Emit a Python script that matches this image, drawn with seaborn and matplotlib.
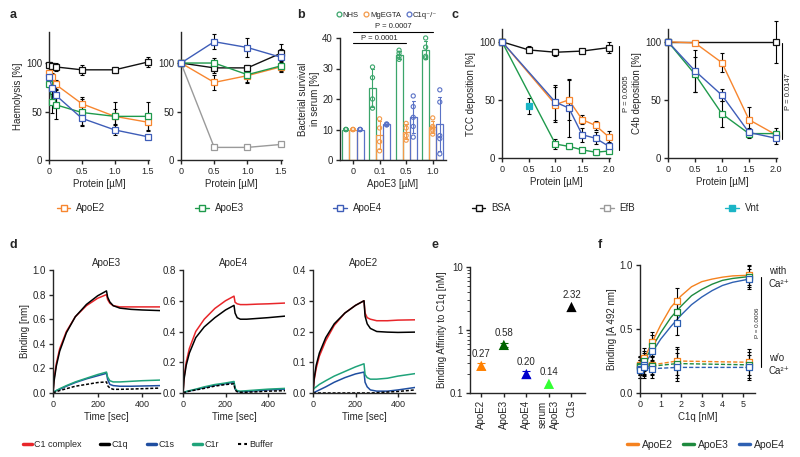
import matplotlib
matplotlib.use('Agg')
import matplotlib.pyplot as plt
from matplotlib.lines import Line2D
import matplotlib.ticker as ticker
import numpy as np
import pandas as pd
import seaborn as sns

# ---- colours
C_E2, C_E3, C_E4 = '#F7862F', '#1F9A4C', '#3E5DB8'
C_BSA, C_EFB, C_VNT = '#111111', '#9A9A9A', '#1BB5C6'

# ---- panel a (haemolysis)
a1_x = [0, 0.05, 0.1, 0.5, 1.0, 1.5]
a1_bsa = [98, 97, 96, 93, 93, 101]
a1_bsa_err = [3, 3, 4, 5, 3, 5]
a1_e2 = [90, 86, 78, 58, 45, 39]
a1_e2_err = [3, 4, 5, 7, 8, 8]
a1_e3 = [78, 60, 57, 49, 45, 45]
a1_e3_err = [3, 12, 15, 14, 15, 15]
a1_e4 = [86, 74, 67, 43, 31, 24]
a1_e4_err = [4, 6, 8, 7, 5, 2]

a2_x = [0, 0.5, 1.0, 1.5]
a2_bsa = [100, 95, 95, 110]
a2_bsa_err = [0, 5, 3, 10]
a2_e2 = [100, 80, 87, 96]
a2_e2_err = [0, 8, 8, 5]
a2_e3 = [100, 100, 88, 97]
a2_e3_err = [0, 5, 8, 5]
a2_e4 = [100, 122, 116, 106]
a2_e4_err = [0, 8, 10, 8]
a2_efb = [100, 13, 13, 16]
a2_efb_err = [0, 2, 2, 2]

# ---- panel b (bacterial survival, replicates)
b_conc = ['0', '0.1', '0.5', '1.0']
b_sera = ['NHS', 'MgEGTA', 'C1q⁻/⁻']
b_nhs = {'0': [10, 10, 10, 10], '0.1': [30.5, 27, 20, 17],
         '0.5': [36, 35, 34, 33], '1.0': [40, 37, 34, 33.5]}
b_mg = {'0': [10, 10, 10, 10], '0.1': [13.5, 10.5, 6, 3],
        '0.5': [12, 10.5, 8, 6.5], '1.0': [13.8, 11, 10.5, 9.8, 8.5]}
b_c1q = {'0': [10, 10, 10, 10], '0.1': [11.8, 11.7, 11.6, 11.5],
         '0.5': [21, 17.5, 14, 11, 7.5], '1.0': [23, 19, 8, 7, 2]}
b_colors = ['#3BA56B', '#F39A4A', '#5A72C6']

# ---- panel c (TCC / C4b deposition)
c1_bsa_x = [0, 0.5, 1.0, 1.5, 2.0]
c1_bsa = [100, 93, 91, 92, 95]
c1_bsa_err = [2, 3, 3, 2, 5]
c1_x = [0, 1.0, 1.25, 1.5, 1.75, 2.0]
c1_e2 = [100, 46, 50, 33, 28, 18]
c1_e2_err = [2, 15, 17, 4, 4, 5]
c1_e3 = [100, 12, 10, 7, 5, 6]
c1_e3_err = [2, 4, 2, 2, 2, 2]
c1_e4 = [100, 48, 43, 20, 17, 10]
c1_e4_err = [2, 15, 25, 6, 5, 4]
c1_vnt_x = [0.5]
c1_vnt = [45]
c1_vnt_err = [7]

c2_bsa_x = [0, 2.0]
c2_bsa = [100, 100]
c2_bsa_err = [0, 18]
c2_x = [0, 0.5, 1.0, 1.5, 2.0]
c2_e2 = [100, 99, 82, 33, 20]
c2_e2_err = [2, 2, 8, 11, 3]
c2_e3 = [100, 72, 38, 21, 21]
c2_e3_err = [2, 15, 11, 4, 5]
c2_e4 = [100, 75, 54, 22, 17]
c2_e4_err = [2, 18, 5, 4, 5]

# ---- panel d (binding kinetics)
d_time = [0, 5, 15, 30, 60, 100, 150, 200, 240, 245, 255, 270, 300, 350, 400, 480]
d_labels = ['C1 complex', 'C1q', 'C1s', 'C1r', 'Buffer']
d_colors = ['#E8262A', '#000000', '#1F4EA0', '#1FA37A', '#000000']
d_apoe3 = {
    'C1 complex': [0, 0.12, 0.24, 0.36, 0.50, 0.62, 0.71, 0.77, 0.80, 0.76, 0.73, 0.71, 0.70, 0.70, 0.70, 0.70],
    'C1q': [0, 0.10, 0.22, 0.34, 0.49, 0.62, 0.72, 0.79, 0.83, 0.78, 0.74, 0.71, 0.69, 0.68, 0.675, 0.67],
    'C1s': [0, 0.01, 0.02, 0.03, 0.055, 0.085, 0.115, 0.14, 0.16, 0.11, 0.07, 0.06, 0.055, 0.055, 0.057, 0.06],
    'C1r': [0, 0.01, 0.02, 0.035, 0.06, 0.09, 0.12, 0.15, 0.17, 0.13, 0.10, 0.09, 0.09, 0.095, 0.10, 0.105],
    'Buffer': [0, 0.005, 0.01, 0.02, 0.035, 0.055, 0.07, 0.085, 0.09, 0.06, 0.04, 0.03, 0.03, 0.032, 0.035, 0.04],
}
d_apoe4 = {
    'C1 complex': [0, 0.10, 0.20, 0.29, 0.40, 0.48, 0.55, 0.60, 0.63, 0.59, 0.58, 0.575, 0.575, 0.578, 0.58, 0.585],
    'C1q': [0, 0.09, 0.18, 0.26, 0.36, 0.43, 0.49, 0.54, 0.57, 0.52, 0.49, 0.48, 0.48, 0.485, 0.49, 0.50],
    'C1s': [0, 0.004, 0.008, 0.013, 0.022, 0.035, 0.05, 0.06, 0.07, 0.025, 0.01, 0.008, 0.01, 0.015, 0.02, 0.025],
    'C1r': [0, 0.005, 0.01, 0.015, 0.025, 0.04, 0.055, 0.065, 0.075, 0.03, 0.015, 0.012, 0.015, 0.02, 0.025, 0.03],
    'Buffer': [0, 0.003, 0.007, 0.012, 0.02, 0.03, 0.045, 0.055, 0.06, 0.02, 0.008, 0.005, 0.005, 0.008, 0.012, 0.015],
}
d_apoe2 = {
    'C1 complex': [0, 0.04, 0.08, 0.12, 0.17, 0.22, 0.26, 0.285, 0.30, 0.26, 0.245, 0.24, 0.235, 0.235, 0.237, 0.238],
    'C1q': [0, 0.045, 0.09, 0.13, 0.18, 0.225, 0.26, 0.285, 0.30, 0.25, 0.225, 0.21, 0.20, 0.198, 0.197, 0.198],
    'C1s': [0, 0.002, 0.005, 0.01, 0.02, 0.035, 0.05, 0.062, 0.068, 0.035, 0.02, 0.01, 0.006, 0.006, 0.01, 0.018],
    'C1r': [0.01, 0.015, 0.02, 0.028, 0.04, 0.055, 0.07, 0.085, 0.095, 0.06, 0.05, 0.045, 0.045, 0.048, 0.055, 0.063],
    'Buffer': [0, 0, 0, 0, 0, 0, 0, 0, 0, 0, 0, 0, 0.001, 0.003, 0.005, 0.01],
}

# ---- panel e (affinity)
e_cats = ['ApoE2', 'ApoE3', 'ApoE4', 'serum\nApoE3', 'C1s']
e_vals = [0.27, 0.58, 0.20, 0.14, 2.32]
e_errs = [0.03, 0.04, 0.02, 0.0, 0.0]
e_colors = ['#FF8000', '#006400', '#0000CC', '#33FF33', '#000000']

# ---- panel f (ELISA)
f_x = [0, 0.2, 0.6, 1.8, 5.3]
f_e2_ca = [0.22, 0.27, 0.40, 0.72, 0.92]
f_e3_ca = [0.21, 0.25, 0.37, 0.63, 0.91]
f_e4_ca = [0.19, 0.22, 0.33, 0.55, 0.89]
f_ca_err = [0.07, 0.08, 0.08, 0.10, 0.08]
f_e2_no = [0.22, 0.23, 0.22, 0.25, 0.24]
f_e3_no = [0.20, 0.21, 0.21, 0.23, 0.22]
f_e4_no = [0.18, 0.20, 0.19, 0.20, 0.20]
f_no_err = [0.06, 0.08, 0.07, 0.11, 0.10]
f_fit_x = [0, 0.2, 0.6, 1.0, 1.5, 2.0, 2.5, 3.0, 3.5, 4.0, 4.5, 5.3]
f_fit_e2 = [0.22, 0.27, 0.40, 0.53, 0.67, 0.76, 0.83, 0.87, 0.89, 0.905, 0.915, 0.92]
f_fit_e3 = [0.21, 0.25, 0.36, 0.47, 0.59, 0.68, 0.76, 0.81, 0.85, 0.88, 0.895, 0.91]
f_fit_e4 = [0.19, 0.22, 0.32, 0.42, 0.52, 0.61, 0.69, 0.75, 0.80, 0.84, 0.865, 0.89]
f_colors = ['#F5821F', '#1E8A3E', '#2E60B2']

# ---------------------------------------------------------------
sns.set_style('ticks')
plt.rcParams['font.family'] = ['Liberation Sans', 'DejaVu Sans']
plt.rcParams.update({
    'font.size': 7, 'axes.linewidth': 1.0, 'axes.labelsize': 7,
    'xtick.labelsize': 6.5, 'ytick.labelsize': 7,
    'xtick.major.size': 3, 'ytick.major.size': 3,
    'xtick.major.width': 1.0, 'ytick.major.width': 1.0,
    'axes.labelpad': 2, 'xtick.major.pad': 2, 'ytick.major.pad': 2,
})

W, H = 800, 457
fig = plt.figure(figsize=(8, 4.57), dpi=100)


def box(l, t, r, b):
    return [l / W, 1 - b / H, (r - l) / W, (b - t) / H]


def style(ax):
    sns.despine(ax=ax)


def series(ax, x, y, err, color, filled=False, ms=4):
    ax.errorbar(x, y, yerr=err, fmt='none', ecolor='black', elinewidth=0.8,
                capsize=1.5, capthick=0.8, zorder=2, clip_on=False)
    sns.lineplot(x=x, y=y, ax=ax, color=color, lw=1.0, marker='s', markersize=ms,
                 markerfacecolor=color if filled else 'white', markeredgecolor=color,
                 markeredgewidth=0.9, zorder=3, clip_on=False)


# ---- panel a
ax = fig.add_axes(box(49, 32, 149, 160))
series(ax, a1_x, a1_bsa, a1_bsa_err, C_BSA)
series(ax, a1_x, a1_e2, a1_e2_err, C_E2)
series(ax, a1_x, a1_e3, a1_e3_err, C_E3)
series(ax, a1_x, a1_e4, a1_e4_err, C_E4)
ax.set_xlim(0, 1.52)
ax.set_ylim(0, 132)
ax.set_yticks([0, 50, 100])
ax.set_xticks([0, 0.5, 1.0, 1.5], ['0', '0.5', '1.0', '1.5'])
ax.set_ylabel('Haemolysis [%]')
ax.set_xlabel('Protein [µM]')
style(ax)

ax = fig.add_axes(box(181, 32, 282, 160))
series(ax, a2_x, a2_efb, a2_efb_err, C_EFB)
series(ax, a2_x, a2_bsa, a2_bsa_err, C_BSA)
series(ax, a2_x, a2_e2, a2_e2_err, C_E2)
series(ax, a2_x, a2_e3, a2_e3_err, C_E3)
series(ax, a2_x, a2_e4, a2_e4_err, C_E4)
ax.set_xlim(0, 1.52)
ax.set_ylim(0, 132)
ax.set_yticks([0, 50, 100])
ax.set_xticks([0, 0.5, 1.0, 1.5], ['0', '0.5', '1.0', '1.5'])
ax.set_xlabel('Protein [µM]')
ax.set_ylabel('')
style(ax)

# ---- panel b
rows = []
for serum, d in zip(b_sera, [b_nhs, b_mg, b_c1q]):
    for conc in b_conc:
        for v in d[conc]:
            rows.append((conc, serum, v))
df_b = pd.DataFrame(rows, columns=['conc', 'serum', 'value'])

ax = fig.add_axes(box(340, 38, 446, 160))
sns.barplot(data=df_b, x='conc', y='value', hue='serum', order=b_conc, hue_order=b_sera,
            palette=b_colors, fill=False, errorbar='sd', capsize=0.35, width=0.8,
            linewidth=0.9, err_kws={'linewidth': 0.8}, legend=False, ax=ax)
n0 = len(ax.collections)
sns.stripplot(data=df_b, x='conc', y='value', hue='serum', order=b_conc, hue_order=b_sera,
              palette=b_colors, dodge=True, jitter=False, size=3, legend=False, ax=ax,
              zorder=4)
for coll in ax.collections[n0:]:
    fc = coll.get_facecolors()
    coll.set_edgecolors(fc)
    coll.set_facecolors('none')
    coll.set_linewidth(0.8)
    coll.set_clip_on(False)
ax.set_xlim(-0.49, 3.5)
ax.set_ylim(0, 40)
ax.set_yticks([0, 10, 20, 30, 40])
ax.set_xlabel('ApoE3 [µM]')
ax.set_ylabel('Bacterial survival\nin serum [%]')
style(ax)
# significance brackets
ax.plot([0, 2], [38.3, 38.3], color='black', lw=0.8, clip_on=False)
ax.text(1, 38.8, 'P = 0.0001', ha='center', va='bottom', fontsize=5.5)
ax.plot([0, 3], [42, 42], color='black', lw=0.8, clip_on=False)
ax.text(1.5, 42.5, 'P = 0.0007', ha='center', va='bottom', fontsize=5.5)
b_handles = [Line2D([], [], ls='none', marker='o', markerfacecolor='none', markeredgecolor=c,
                    markersize=3.5, markeredgewidth=0.9) for c in b_colors]
fig.legend(b_handles, b_sera, loc='center left',
           bbox_to_anchor=(331 / W, 1 - 15 / H), ncol=3, frameon=False, fontsize=5.5,
           handletextpad=0.0, columnspacing=0.5, handlelength=1.0, borderpad=0)

# ---- panel c
ax = fig.add_axes(box(502, 29, 610, 158))
series(ax, c1_bsa_x, c1_bsa, c1_bsa_err, C_BSA)
series(ax, c1_x, c1_e2, c1_e2_err, C_E2)
series(ax, c1_x, c1_e3, c1_e3_err, C_E3)
series(ax, c1_x, c1_e4, c1_e4_err, C_E4)
series(ax, c1_vnt_x, c1_vnt, c1_vnt_err, C_VNT, filled=True)
ax.set_xlim(0, 2.02)
ax.set_ylim(0, 111)
ax.set_yticks([0, 50, 100])
ax.set_xticks([0, 0.5, 1.0, 1.5, 2.0], ['0', '0.5', '1.0', '1.5', '2.0'])
ax.set_xlabel('Protein [µM]')
ax.set_ylabel('TCC deposition [%]')
ax.plot([2.19, 2.19], [7, 96], color='black', lw=0.8, clip_on=False)
ax.text(2.33, 55, 'P = 0.0005', rotation=90, ha='center', va='center', fontsize=5.5)
style(ax)

ax = fig.add_axes(box(668, 29, 777, 158))
series(ax, c2_bsa_x, c2_bsa, c2_bsa_err, C_BSA)
series(ax, c2_x, c2_e2, c2_e2_err, C_E2)
series(ax, c2_x, c2_e3, c2_e3_err, C_E3)
series(ax, c2_x, c2_e4, c2_e4_err, C_E4)
ax.set_xlim(0, 2.02)
ax.set_ylim(0, 111)
ax.set_yticks([0, 50, 100])
ax.set_xticks([0, 0.5, 1.0, 1.5, 2.0], ['0', '0.5', '1.0', '1.5', '2.0'])
ax.set_xlabel('Protein [µM]')
ax.set_ylabel('C4b deposition [%]')
ax.plot([2.11, 2.11], [16, 99], color='black', lw=0.8, clip_on=False)
ax.text(2.24, 57, 'P = 0.0147', rotation=90, ha='center', va='center', fontsize=5.5)
style(ax)

# shared legend for a and c
ac_handles = [Line2D([], [], color=c, lw=1.0, marker='s', markersize=4,
                     markerfacecolor=(c if f else 'white'), markeredgecolor=c)
              for c, f in zip([C_E2, C_E3, C_E4, C_BSA, C_EFB, C_VNT],
                              [False, False, False, False, False, True])]
fig.legend(ac_handles, ['ApoE2', 'ApoE3', 'ApoE4', 'BSA', 'EfB', 'Vnt'],
           loc='center left', bbox_to_anchor=(52 / W, 1 - 208 / H, 712 / W, 0.0001),
           mode='expand', ncol=6, frameon=False, fontsize=7, handlelength=1.4,
           handletextpad=0.6, borderpad=0)

# ---- panel d
for left, right, title, data, ymax, step in [
        (53, 160, 'ApoE3', d_apoe3, 1.0, 0.2),
        (183, 285, 'ApoE4', d_apoe4, 0.8, 0.2),
        (313, 415, 'ApoE2', d_apoe2, 0.4, 0.1)]:
    ax = fig.add_axes(box(left, 270, right, 393))
    for lab, col in zip(d_labels, d_colors):
        sns.lineplot(x=d_time, y=data[lab], ax=ax, color=col, lw=1.1,
                     ls=(0, (2, 1.2)) if lab == 'Buffer' else '-')
    ax.set_xlim(0, 480)
    ax.set_ylim(0, ymax)
    ax.set_yticks(np.round(np.arange(0, ymax + 1e-9, step), 2))
    ax.yaxis.set_major_formatter(ticker.FormatStrFormatter('%.1f'))
    ax.set_xticks([0, 200, 400])
    ax.set_xlabel('Time [sec]')
    ax.set_ylabel('Binding [nm]' if title == 'ApoE3' else '')
    ax.set_title(title, fontsize=7, pad=3)
    style(ax)

d_handles = [Line2D([], [], color=c, lw=2.5 if l != 'Buffer' else 1.5,
                    ls=(0, (1.5, 1.5)) if l == 'Buffer' else '-')
             for l, c in zip(d_labels, d_colors)]
fig.legend(d_handles, d_labels, loc='center left',
           bbox_to_anchor=(18 / W, 1 - 445 / H, 260 / W, 0.0001),
           mode='expand', ncol=5, frameon=False, fontsize=6.5, handlelength=1.0,
           handletextpad=0.3, borderpad=0)

# ---- panel e
ax = fig.add_axes(box(470, 267, 585, 393))
df_e = pd.DataFrame({'cat': e_cats, 'val': e_vals, 'err': e_errs})
sns.scatterplot(data=df_e, x='cat', y='val', hue='cat', palette=e_colors, marker='^',
                s=55, edgecolor='none', legend=False, ax=ax, zorder=3)
for i, (v, err, c) in enumerate(zip(e_vals, e_errs, e_colors)):
    if err > 0:
        ax.errorbar([i], [v], yerr=[err], fmt='none', ecolor=c, elinewidth=0.8,
                    capsize=3, capthick=0.8, zorder=2)
    ax.text(i, v * 1.28, f'{v:.2f}', ha='center', va='bottom', fontsize=7)
ax.set_yscale('log')
ax.set_ylim(0.1, 10)
ax.set_xlim(-0.5, 4.6)
ax.yaxis.set_major_formatter(ticker.FuncFormatter(lambda y, p: f'{y:g}'))
ax.set_xticks(range(len(e_cats)), e_cats, rotation=90, fontsize=7)
ax.set_xlabel('')
ax.set_ylabel('Binding Affinity to C1q [nM]')
ax.tick_params(axis='y', which='minor', length=2)
style(ax)

# ---- panel f
ax = fig.add_axes(box(640, 265, 755, 393))
for fit, ca, no, c in zip([f_fit_e2, f_fit_e3, f_fit_e4], [f_e2_ca, f_e3_ca, f_e4_ca],
                          [f_e2_no, f_e3_no, f_e4_no], f_colors):
    sns.lineplot(x=f_fit_x, y=fit, ax=ax, color=c, lw=1.0)
    sns.lineplot(x=f_x, y=no, ax=ax, color=c, lw=1.0, ls=(0, (3, 1.5)))
    for y, err in [(ca, f_ca_err), (no, f_no_err)]:
        ax.errorbar(f_x, y, yerr=err, fmt='none', ecolor='black', elinewidth=0.8,
                    capsize=1.5, capthick=0.8, zorder=2, clip_on=False)
        ax.scatter(f_x, y, marker='s', s=14, facecolor='white', edgecolor=c,
                   linewidth=0.9, zorder=4, clip_on=False)
ax.set_xlim(0, 5.58)
ax.set_ylim(0, 1.0)
ax.set_yticks([0, 0.5, 1.0])
ax.yaxis.set_major_formatter(ticker.FormatStrFormatter('%.1f'))
ax.set_xticks(range(6))
ax.set_xlabel('C1q [nM]')
ax.set_ylabel('Binding [A 492 nm]')
ax.plot([5.87, 5.87], [0.2, 0.905], color='black', lw=0.8, clip_on=False)
ax.text(5.68, 0.55, 'P = 0.0006', rotation=90, ha='center', va='center', fontsize=4.5)
ax.text(6.25, 0.95, 'with', fontsize=7, va='center')
ax.text(6.25, 0.85, 'Ca²⁺', fontsize=7, va='center')
ax.text(6.25, 0.27, 'w/o', fontsize=7, va='center')
ax.text(6.25, 0.17, 'Ca²⁺', fontsize=7, va='center')
style(ax)

f_handles = [Line2D([], [], color=c, lw=2.5) for c in f_colors]
fig.legend(f_handles, ['ApoE2', 'ApoE3', 'ApoE4'], loc='center left',
           bbox_to_anchor=(622 / W, 1 - 445 / H), ncol=3, frameon=False, fontsize=7.5,
           handlelength=1.0, handletextpad=0.4, columnspacing=1.0, borderpad=0)

# ---- panel letters
for lab, x, y in [('a', 10, 15), ('b', 297, 15), ('c', 452, 15),
                  ('d', 10, 245), ('e', 432, 245), ('f', 598, 245)]:
    fig.text(x / W, 1 - y / H, lab, fontsize=9, fontweight='bold', va='center')

fig.savefig('out.png', dpi=100)
plt.close(fig)
